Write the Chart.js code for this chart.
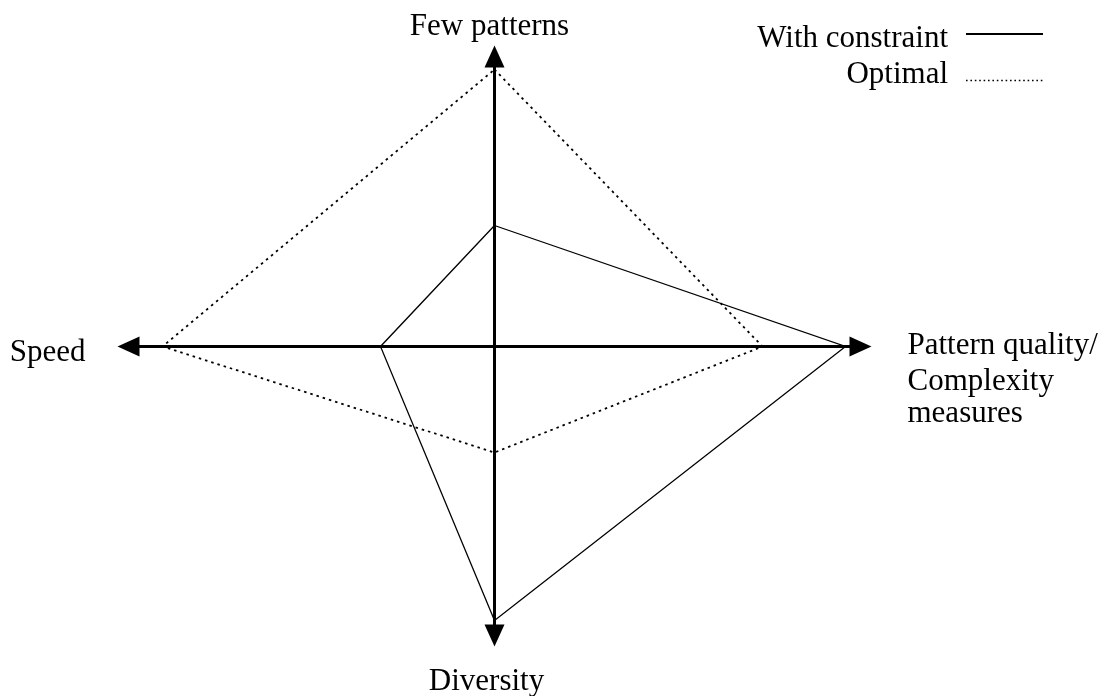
<!DOCTYPE html>
<html>
<head>
<meta charset="utf-8">
<title>Trade-off diagram</title>
<script src="https://cdn.jsdelivr.net/npm/chart.js@4.4.1/dist/chart.umd.min.js"></script>
<style>
  html, body { margin: 0; padding: 0; background: #fff; }
  #wrap { width: 1115px; height: 696px; position: relative; }
</style>
</head>
<body>
<div id="wrap"><canvas id="tradeoff"></canvas></div>
<script>
// axis order: up, right, down, left
const axisLabels = [['Few patterns'], ['Pattern quality/', 'Complexity', 'measures'], ['Diversity'], ['Speed']];
const axisLength = [3.01, 3.77, 3.00, 3.77];
const withConstraint = [1.21, 3.51, 2.74, 1.14];
const optimal = [2.77, 2.68, 1.06, 3.32];
const legendLabels = ['With constraint', 'Optimal'];

const dirs = [[0, 1], [1, 0], [0, -1], [-1, 0]];
const FONT = '31px "Liberation Serif", "Times New Roman", serif';
const ARROW_LEN = 22, ARROW_HALF = 10;

function toPolygon(values) {
    const pts = values.map((v, i) => ({ x: dirs[i][0] * v, y: dirs[i][1] * v }));
    pts.push(pts[0]);
    return pts;
}

// axis line stops a little inside the arrow tip so the thick line doesn't poke out
const axisInset = 0.1;

const arrowsAndLabels = {
    id: 'arrowsAndLabels',
    afterDatasetsDraw(chart) {
        const { ctx, scales: { x, y } } = chart;
        const tip = i => ({
            x: x.getPixelForValue(dirs[i][0] * axisLength[i]),
            y: y.getPixelForValue(dirs[i][1] * axisLength[i])
        });
        ctx.save();
        ctx.fillStyle = '#000';
        // arrow heads
        axisLength.forEach((len, i) => {
            const t = tip(i);
            const ux = dirs[i][0], uy = -dirs[i][1];
            ctx.beginPath();
            ctx.moveTo(t.x, t.y);
            ctx.lineTo(t.x - ux * ARROW_LEN - uy * ARROW_HALF, t.y - uy * ARROW_LEN + ux * ARROW_HALF);
            ctx.lineTo(t.x - ux * ARROW_LEN + uy * ARROW_HALF, t.y - uy * ARROW_LEN - ux * ARROW_HALF);
            ctx.closePath();
            ctx.fill();
        });

        // axis labels
        ctx.font = FONT;
        ctx.textBaseline = 'alphabetic';
        let t = tip(0);
        ctx.textAlign = 'center';
        ctx.fillText(axisLabels[0][0], t.x - 5, t.y - 11);
        t = tip(2);
        ctx.fillText(axisLabels[2][0], t.x - 8, t.y + 43);
        t = tip(1);
        ctx.textAlign = 'left';
        [7.5, 43, 75.5].forEach((dy, k) => ctx.fillText(axisLabels[1][k], t.x + 36, t.y + dy));
        t = tip(3);
        ctx.textAlign = 'right';
        ctx.fillText(axisLabels[3][0], t.x - 32, t.y + 14.5);

        // legend
        ctx.fillText(legendLabels[0], 948, 47);
        ctx.fillText(legendLabels[1], 948, 83);
        ctx.strokeStyle = '#000';
        ctx.lineWidth = 2;
        ctx.beginPath();
        ctx.moveTo(966, 34);
        ctx.lineTo(1043, 34);
        ctx.stroke();
        ctx.lineWidth = 1.6;
        ctx.setLineDash([1.6, 2.8]);
        ctx.beginPath();
        ctx.moveTo(966, 80.5);
        ctx.lineTo(1043, 80.5);
        ctx.stroke();
        ctx.restore();
    }
};

new Chart(document.getElementById('tradeoff'), {
    type: 'scatter',
    data: {
        datasets: [
            {
                label: 'horizontal axis',
                data: [{ x: -axisLength[3] + axisInset, y: 0 }, { x: axisLength[1] - axisInset, y: 0 }],
                showLine: true, borderColor: '#000', borderWidth: 3, pointRadius: 0
            },
            {
                label: 'vertical axis',
                data: [{ x: 0, y: -axisLength[2] + axisInset }, { x: 0, y: axisLength[0] - axisInset }],
                showLine: true, borderColor: '#000', borderWidth: 3, pointRadius: 0
            },
            {
                label: legendLabels[0],
                data: toPolygon(withConstraint),
                showLine: true, borderColor: '#000', borderWidth: 1.3, pointRadius: 0
            },
            {
                label: legendLabels[1],
                data: toPolygon(optimal),
                showLine: true, borderColor: '#000', borderWidth: 1.8, pointRadius: 0,
                borderDash: [2.5, 4]
            }
        ]
    },
    options: {
        responsive: true,
        maintainAspectRatio: false,
        animation: false,
        layout: { padding: 0 },
        clip: false,
        scales: {
            x: { type: 'linear', min: -4.945, max: 6.205, display: false },
            y: { type: 'linear', min: -3.495, max: 3.465, display: false }
        },
        plugins: {
            legend: { display: false },
            tooltip: { enabled: false }
        }
    },
    plugins: [arrowsAndLabels]
});
</script>
</body>
</html>
